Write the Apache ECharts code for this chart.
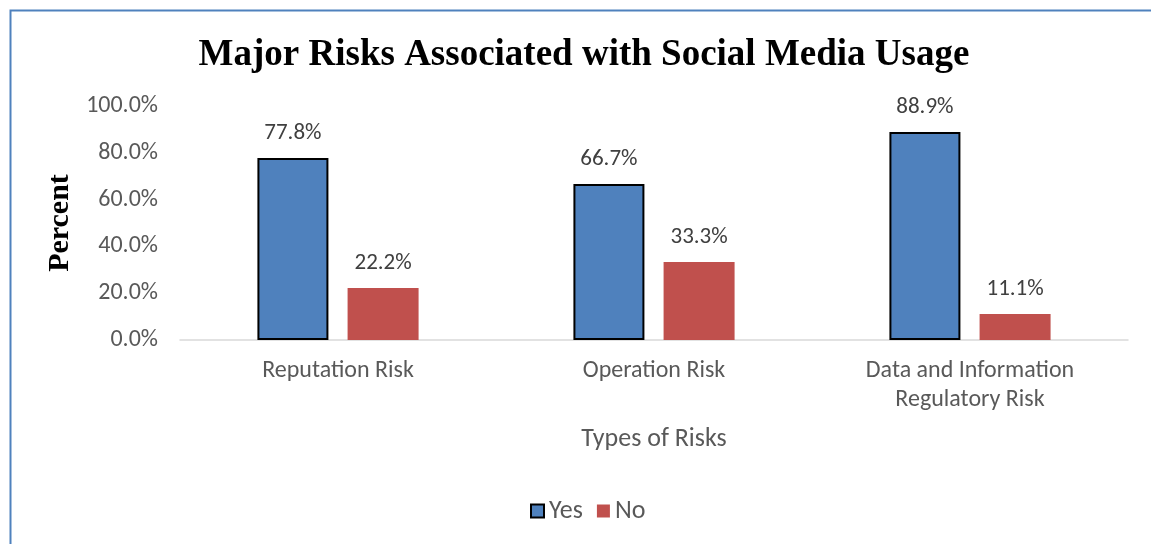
<!DOCTYPE html>
<html>
<head>
<meta charset="utf-8">
<script src="https://cdn.jsdelivr.net/npm/echarts@6/dist/echarts.min.js"></script>
<style>
  html, body { margin: 0; padding: 0; background: #fff; }
  #chart { width: 1151px; height: 544px; }
</style>
</head>
<body>
<div id="chart"></div>
<script>
const categories = ['Reputation Risk', 'Operation Risk', 'Data and Information\nRegulatory Risk']
const yesValues = [77.8, 66.7, 88.9]
const noValues = [22.2, 33.3, 11.1]

const chart = echarts.init(document.getElementById('chart'))

// calibri look-alike
const bodyFont = 'Carlito, Calibri, Lato, sans-serif'

const labelStyle = {
  show: true,
  position: 'top',
  distance: 13,
  fontFamily: bodyFont,
  fontSize: 23,
  color: '#404040',
  formatter: function (p) {
    return p.value.toFixed(1) + '%'
  }
}

const option = {
  animation: false,
  title: {
    text: 'Major Risks Associated with Social Media Usage',
    left: 579,
    textAlign: 'center',
    top: 32,
    textStyle: {
      fontFamily: '"Liberation Serif", "Times New Roman", serif',
      fontWeight: 'bold',
      fontSize: 37,
      color: '#000'
    }
  },
  graphic: [
    {
      type: 'rect',
      shape: { x: 10.5, y: 10.5, width: 1300, height: 700 },
      style: { fill: 'none', stroke: '#4F81BD', lineWidth: 2 },
      silent: true
    }
  ],
  legend: {
    top: 493,
    left: 525,
    itemWidth: 13,
    itemHeight: 13,
    itemGap: 14,
    icon: 'rect',
    textStyle: {
      fontFamily: bodyFont,
      fontSize: 26,
      color: '#595959'
    },
    data: ['Yes', 'No']
  },
  grid: {
    left: 180,
    right: 23,
    top: 106,
    bottom: 204,
    containLabel: false
  },
  xAxis: {
    type: 'category',
    data: categories,
    name: 'Types of Risks',
    nameLocation: 'middle',
    nameGap: 86,
    nameTextStyle: {
      fontFamily: bodyFont,
      fontSize: 26,
      color: '#595959'
    },
    axisLine: { lineStyle: { color: '#d9d9d9', width: 1.5 } },
    axisTick: { show: false },
    axisLabel: {
      margin: 16,
      fontFamily: bodyFont,
      fontSize: 24,
      lineHeight: 29,
      color: '#595959'
    }
  },
  yAxis: {
    type: 'value',
    min: 0,
    max: 100,
    interval: 20,
    name: 'Percent',
    nameLocation: 'middle',
    nameGap: 104,
    nameTextStyle: {
      fontFamily: '"Liberation Serif", "Times New Roman", serif',
      fontWeight: 'bold',
      fontSize: 30,
      color: '#000'
    },
    axisLine: { show: false },
    axisTick: { show: false },
    splitLine: { show: false },
    axisLabel: {
      margin: 22,
      fontFamily: bodyFont,
      fontSize: 24,
      color: '#595959',
      formatter: function (v) {
        return v.toFixed(1) + '%'
      }
    }
  },
  series: [
    {
      name: 'Yes',
      type: 'bar',
      data: yesValues,
      barWidth: 71,
      barGap: '27%',
      itemStyle: { color: '#4F81BD', borderColor: '#000', borderWidth: 2 },
      label: labelStyle
    },
    {
      name: 'No',
      type: 'bar',
      data: noValues,
      barWidth: 71,
      itemStyle: { color: '#C0504D' },
      label: labelStyle
    }
  ]
}

chart.setOption(option)
</script>
</body>
</html>
